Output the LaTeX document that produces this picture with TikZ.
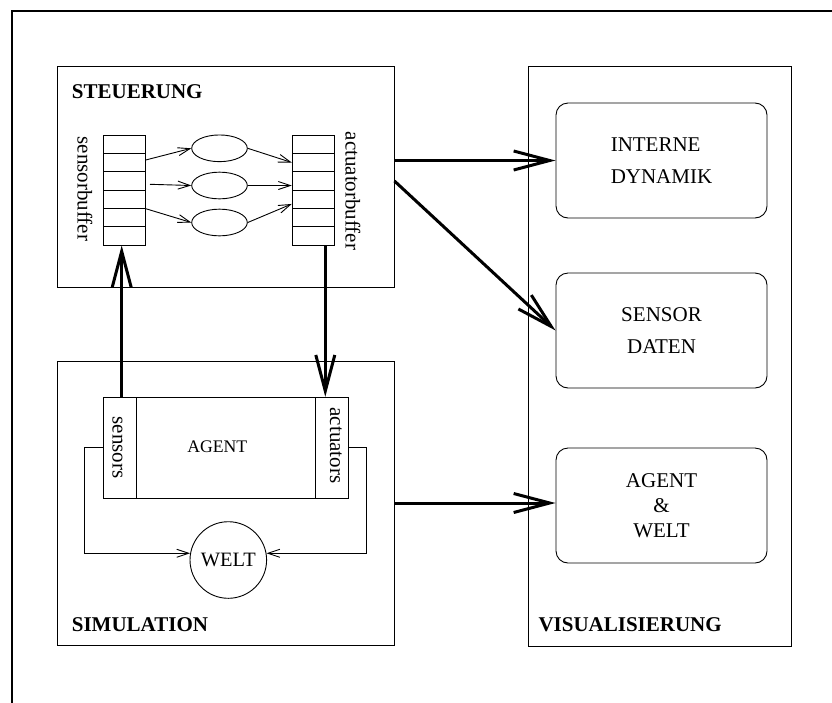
\documentclass[tikz,border=0pt]{standalone}
\usepackage{fontspec}
\setmainfont{Liberation Serif}
\usetikzlibrary{arrows.meta,shapes.geometric,calc}
\begin{document}
\begin{tikzpicture}[x=1pt,y=-1pt,
  every node/.style={font=\fontsize{21}{25}\selectfont, inner sep=0pt},
  thinline/.style={line width=0.9pt},
  panel/.style={draw, thinline, minimum width=337pt},
  cell/.style={draw, thinline, minimum width=42.2pt, minimum height=18.33pt},
  ell/.style={draw, thinline, ellipse, minimum width=55.6pt, minimum height=26.7pt},
  agcell/.style={draw, thinline, minimum height=101pt},
  viewbox/.style={draw, thinline, rounded corners=12pt, minimum width=211pt, minimum height=115pt},
  boldlabel/.style={anchor=base west, font=\bfseries\fontsize{21}{25}\selectfont},
  tarrow/.style={thinline, -{Straight Barb[length=12pt,width=8pt]}},
  bigarrow/.style={line width=3pt, -{Straight Barb[length=36pt,width=19pt]}},
]
\useasboundingbox (0,0) rectangle (832,702);
% outer frame
\draw[line width=2pt] (840,11) -- (12,11) -- (12,710);

% panels
\node[panel, minimum height=221pt] (steu) at (225.5,176.5) {};
\node[panel, minimum height=284pt] (sim) at (225.5,503) {};
\node[draw, thinline, minimum width=263pt, minimum height=580pt] (vis) at (659.5,356) {};
\node[boldlabel] (steulab) at (71.7,98.3) {STEUERUNG};
\node[boldlabel] (simlab) at (71.7,631.7) {SIMULATION};
\node[boldlabel] (vislab) at (538.3,631.7) {VISUALISIERUNG};

% buffers
\foreach \i in {1,...,6} {
  \node[cell] (sb\i) at (124.5,{135+18.333*(\i-0.5)}) {};
  \node[cell] (ab\i) at (313.3,{135+18.333*(\i-0.5)}) {};
}
\node[rotate=-90] (sblab) at (85,189) {sensorbuffer};
\node[rotate=-90] (ablab) at (353,191) {actuatorbuffer};

% ellipses
\node[ell] (e1) at (219.5,148.3) {};
\node[ell] (e2) at (219.5,185.5) {};
\node[ell] (e3) at (219.5,222.5) {};

\coordinate (s1) at (145.7,160);
\coordinate (m1) at (150,184.3);
\draw[tarrow] (s1) -- (e1.west);
\draw[tarrow] (m1) -- (e2.west);
\draw[tarrow] (sb4.south east) -- (e3.west);
\draw[tarrow] (e1.east) -- (ab2.west);
\draw[tarrow] (e2.east) -- (e2.east -| ab3.west);
\draw[tarrow] (e3.east) -- ($(ab4.west)!0.5!(ab4.south west)$);

% agent
\node[agcell, minimum width=32.7pt] (sens) at (119.65,447.8) {};
\node[agcell, minimum width=179.7pt] (agent) at (225.85,447.8) {};
\node[agcell, minimum width=32.6pt] (act) at (332,447.8) {};
\node[rotate=-90] (senslab) at (117.5,447.5) {sensors};
\node[rotate=-90] (actlab) at (336,445.5) {actuators};
\node[font=\fontsize{17.7}{21}\selectfont] (agentlab) at (217.3,446.7) {AGENT};

\node[circle, draw, thinline, minimum size=76.6pt, font=\fontsize{20.4}{24}\selectfont] (welt) at (228.3,560) {WELT};
\draw[tarrow] (sens.west) -- ++(-18.3,0) |- (welt.170);
\draw[tarrow] (act.east) -- ++(17.7,0) |- (welt.10);

% thick vertical arrows
\coordinate (upstart) at (121.7,397.3);
\coordinate (downstart) at (325.3,245);
\draw[bigarrow] (upstart) -- (upstart |- sb6.south);
\draw[bigarrow] (downstart) -- (downstart |- act.north);

% visualisation boxes
\node[viewbox, align=left, font=\fontsize{21}{31.7}\selectfont] (intdyn) at (661.5,160.5) {INTERNE\\DYNAMIK};
\node[viewbox, align=center, font=\fontsize{21}{31.7}\selectfont] (sendat) at (661.5,330.5) {SENSOR\\DATEN};
\node[viewbox, align=center, font=\fontsize{21}{25}\selectfont] (agwelt) at (661.5,505.5) {AGENT\\\&\\WELT};

\coordinate (diagst) at ($(steu.east)+(0,4.5)$);
\draw[bigarrow] (steu.east |- intdyn.west) -- (intdyn.west);
\draw[bigarrow] (diagst) -- (sendat.west);
\draw[bigarrow] (sim.east) -- (sim.east -| agwelt.west);
\end{tikzpicture}
\end{document}
